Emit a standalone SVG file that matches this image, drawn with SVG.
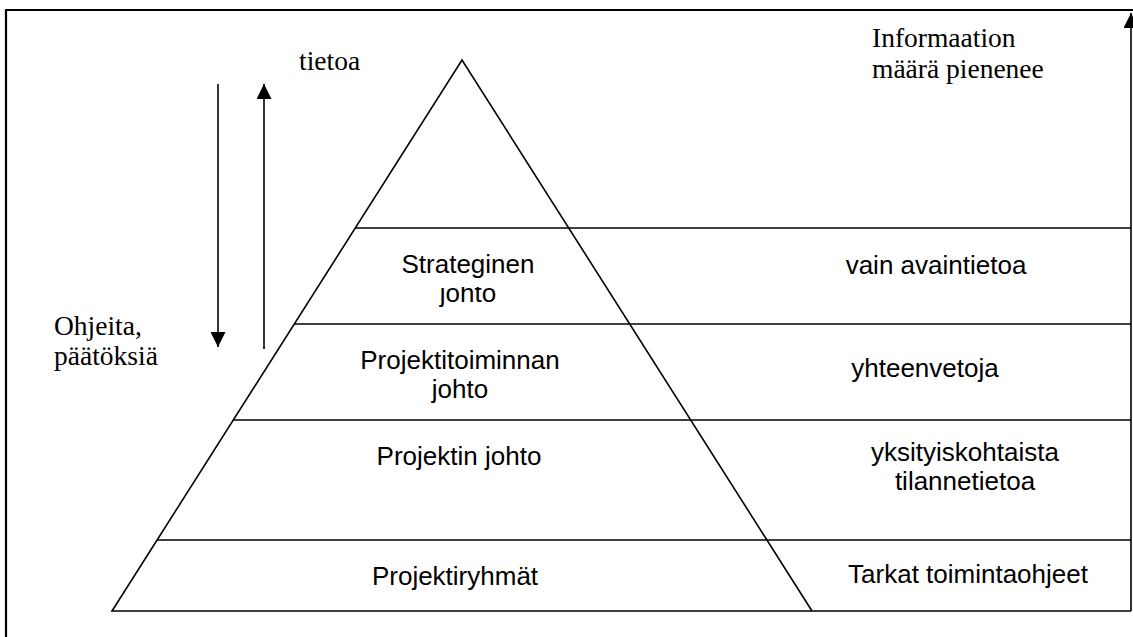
<svg xmlns="http://www.w3.org/2000/svg" width="1133" height="637" viewBox="0 0 1133 637">
  <style>
    .frame { stroke: #000; stroke-width: 2.2; fill: none; }
    .line { stroke: #000; stroke-width: 1.6; fill: none; }
    .serif { font-family: "Liberation Serif", "Times New Roman", serif; font-size: 27.5px; fill: #000; }
    .sans { font-family: "Liberation Sans", Arial, sans-serif; font-size: 26px; fill: #000; }
    .mid { text-anchor: middle; }
  </style>
  <defs>
    <marker id="headBig" viewBox="0 0 15 15" refX="15" refY="7.5" markerWidth="15" markerHeight="15" markerUnits="userSpaceOnUse" orient="auto">
      <path d="M0,0 L15,7.5 L0,15 Z" fill="#000"/>
    </marker>
    <!-- the text box of the top level cuts off the tops of its second line -->
    <clipPath id="clipTop">
      <rect x="300" y="287" width="330" height="30"/>
    </clipPath>
  </defs>

  <!-- page frame -->
  <g id="frame">
    <line class="frame" x1="6" y1="10" x2="1133" y2="10"/>
    <line class="frame" x1="6" y1="9" x2="6" y2="637"/>
  </g>

  <!-- pyramid outline -->
  <g id="pyramid">
    <path class="line" d="M112,611 L462,60 L812,611"/>
  </g>

  <!-- level bands -->
  <g id="level-strategic">
    <line class="line" x1="355" y1="228" x2="1131" y2="228"/>
    <text class="sans mid" x="468" y="273">Strateginen</text>
    <text class="sans mid" x="468" y="302" clip-path="url(#clipTop)">johto</text>
    <text class="sans mid" x="936" y="274">vain avaintietoa</text>
  </g>
  <g id="level-portfolio">
    <line class="line" x1="294" y1="324" x2="1131" y2="324"/>
    <text class="sans mid" x="460" y="369">Projektitoiminnan</text>
    <text class="sans mid" x="460" y="398">johto</text>
    <text class="sans mid" x="925" y="377">yhteenvetoja</text>
  </g>
  <g id="level-project">
    <line class="line" x1="233" y1="420" x2="1131" y2="420"/>
    <text class="sans mid" x="459" y="465">Projektin johto</text>
    <text class="sans mid" x="965" y="461">yksityiskohtaista</text>
    <text class="sans mid" x="965" y="490">tilannetietoa</text>
  </g>
  <g id="level-teams">
    <line class="line" x1="157" y1="540" x2="1131" y2="540"/>
    <line class="line" x1="111" y1="611" x2="1131" y2="611"/>
    <text class="sans mid" x="455" y="585">Projektiryhmät</text>
    <text class="sans mid" x="968" y="583">Tarkat toimintaohjeet</text>
  </g>

  <!-- labels -->
  <g id="label-info">
    <text class="serif" x="872" y="47">Informaation</text>
    <text class="serif" x="872" y="78">määrä pienenee</text>
  </g>
  <g id="label-tietoa">
    <text class="serif" x="299" y="70">tietoa</text>
  </g>
  <g id="label-ohjeita">
    <text class="serif" x="54" y="335">Ohjeita,</text>
    <text class="serif" x="54" y="365">päätöksiä</text>
  </g>

  <!-- connectors -->
  <g id="connectors">
    <line class="line" x1="218" y1="84" x2="218" y2="347" marker-end="url(#headBig)"/>
    <line class="line" x1="264" y1="349" x2="264" y2="84" marker-end="url(#headBig)"/>
    <line class="line" x1="1131" y1="611" x2="1131" y2="13" marker-end="url(#headBig)"/>
  </g>
</svg>
